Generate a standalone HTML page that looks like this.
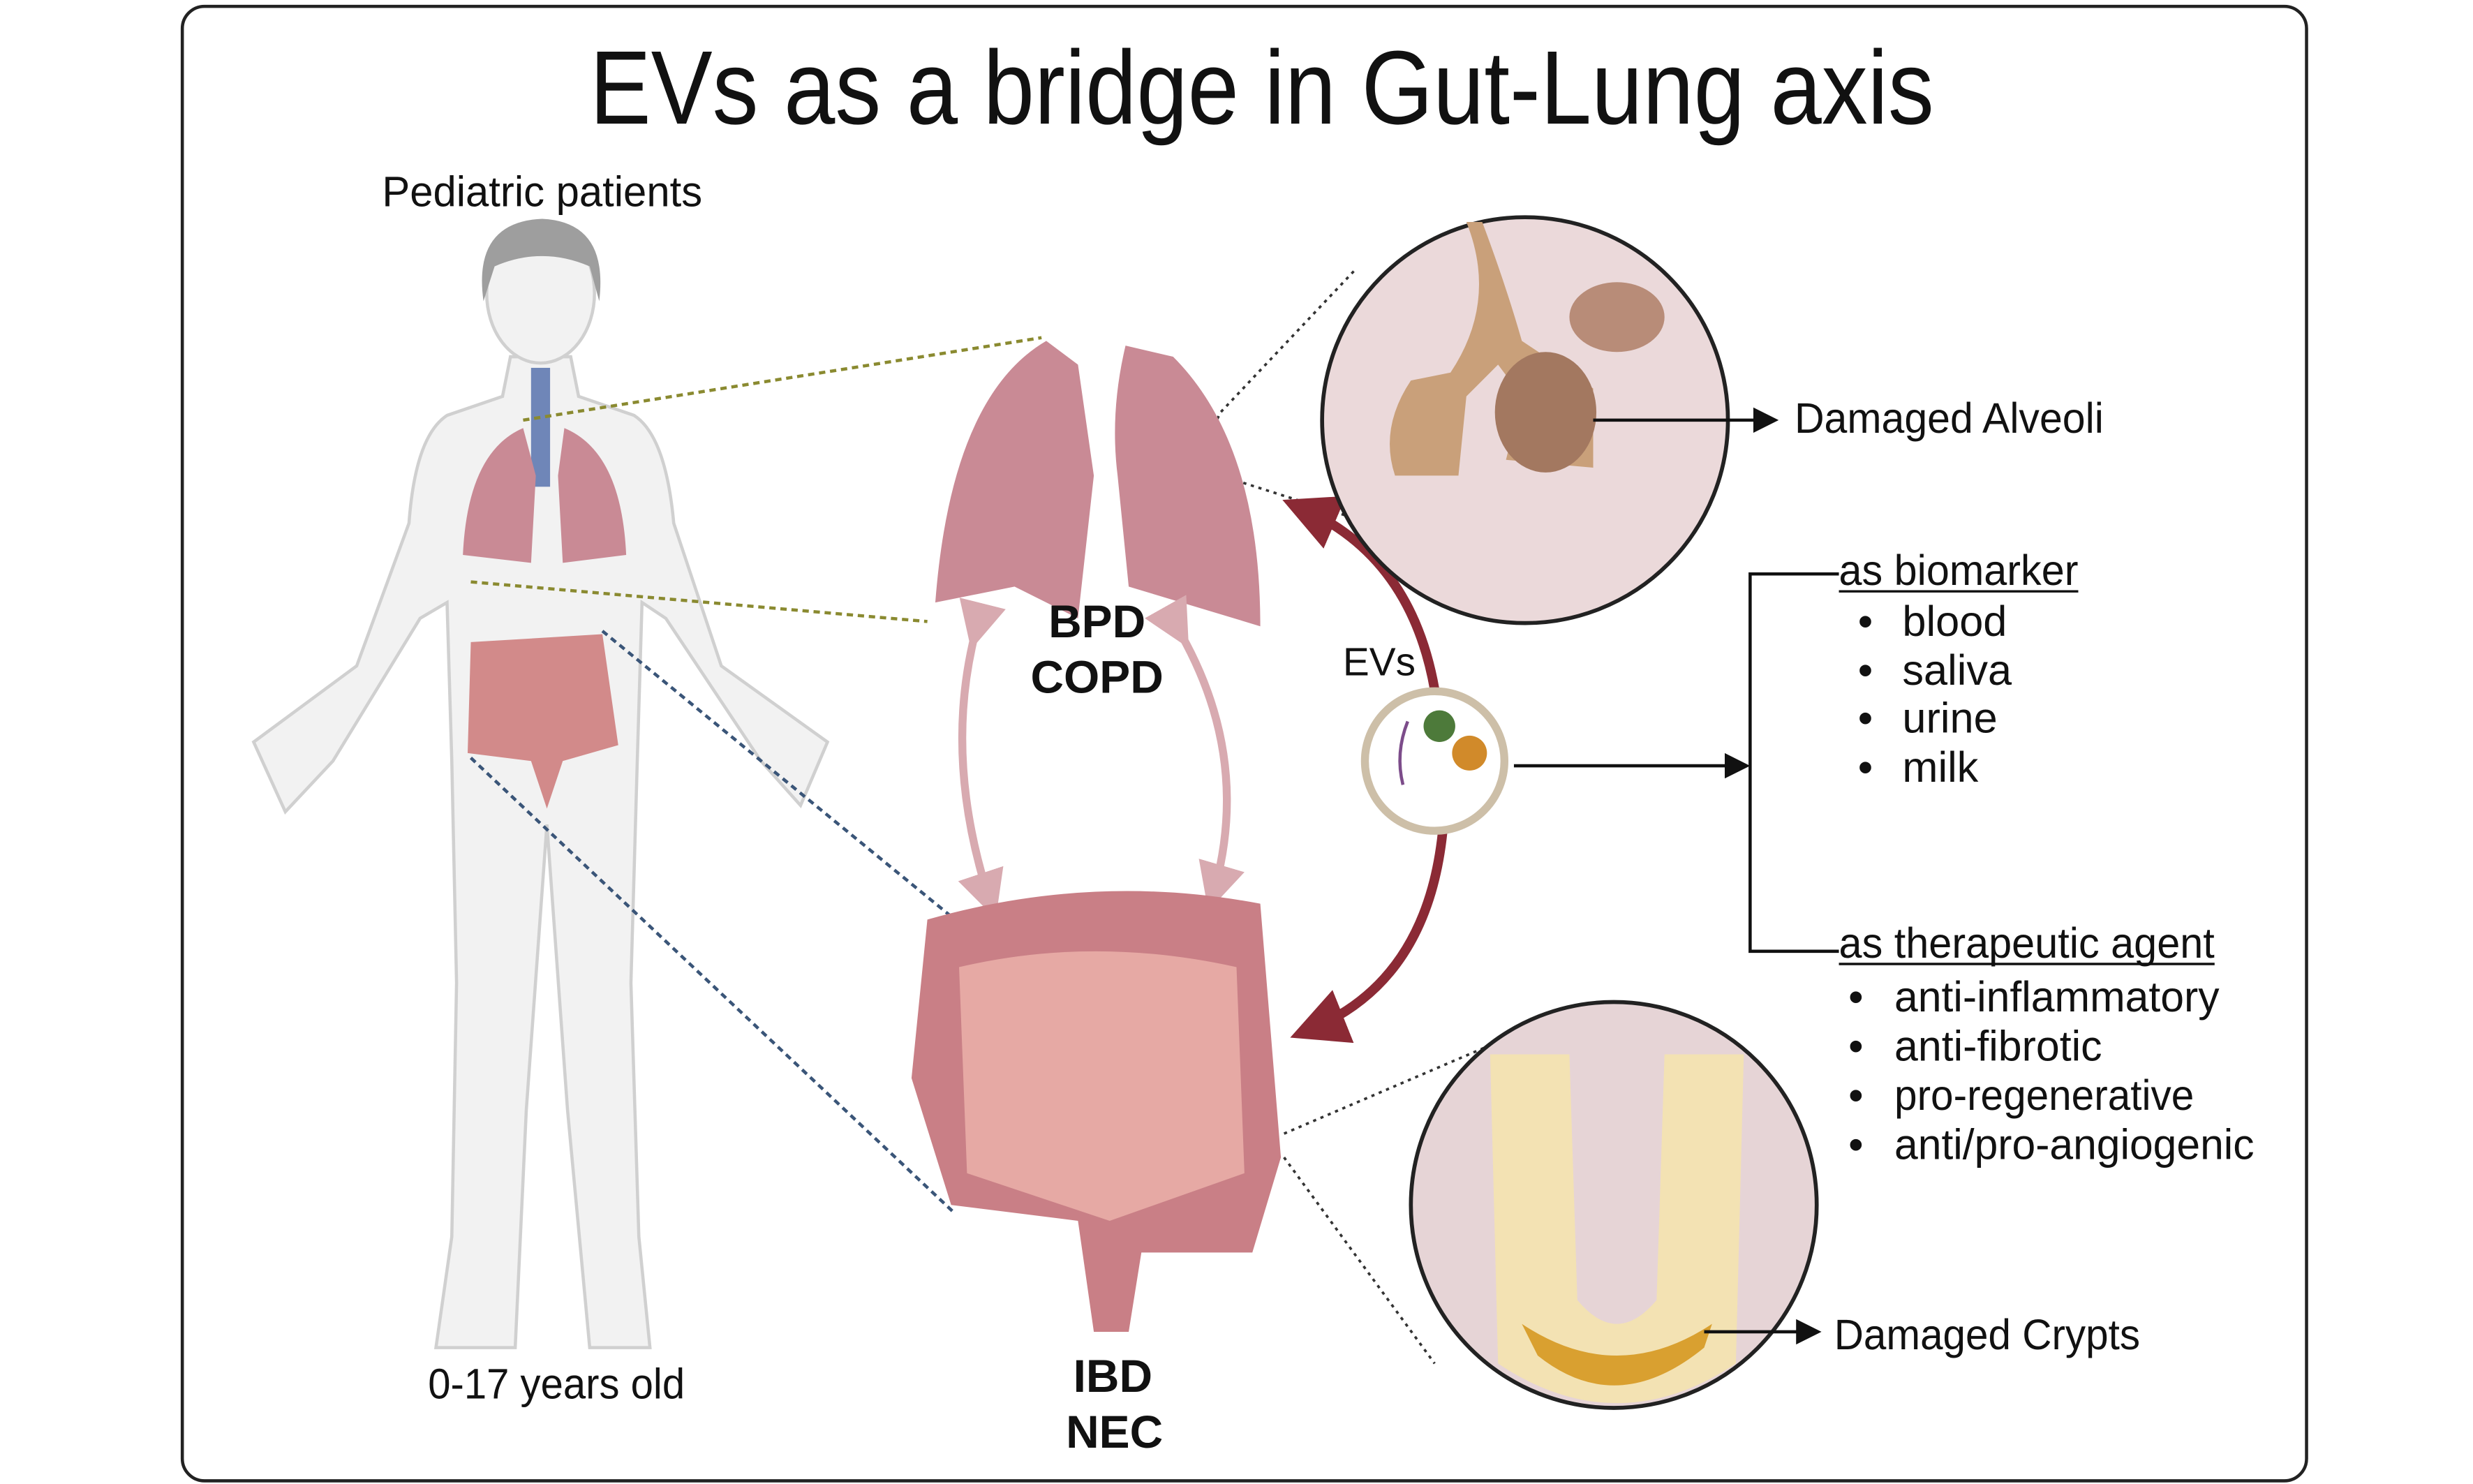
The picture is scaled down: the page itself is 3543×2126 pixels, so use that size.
<!DOCTYPE html>
<html><head><meta charset="utf-8"><style>
html,body{margin:0;padding:0;background:#fff}
svg{display:block}
text{font-family:"Liberation Sans Narrow","Liberation Sans",sans-serif;fill:#111}
</style></head><body>
<svg width="3543" height="2126" viewBox="0 0 1560 936" preserveAspectRatio="none" xmlns="http://www.w3.org/2000/svg">
<defs>
<marker id="ah" markerWidth="8" markerHeight="8" refX="6" refY="4" orient="auto"><path d="M0,0 L8,4 L0,8 z" fill="#111"/></marker>
<marker id="rh" markerWidth="6" markerHeight="6" refX="4" refY="3" orient="auto"><path d="M0,0 L6,3 L0,6 z" fill="#8b2a35"/></marker>
<marker id="ph" markerWidth="6" markerHeight="6" refX="4" refY="3" orient="auto"><path d="M0,0 L6,3 L0,6 z" fill="#d8aab0"/></marker>
</defs>
<rect x="115" y="4" width="1340" height="930" rx="14" fill="#fff" stroke="#222" stroke-width="2"/>
<text x="372" y="78" font-size="66" textLength="848" lengthAdjust="spacingAndGlyphs">EVs as a bridge in Gut-Lung axis</text>
<text x="241" y="130" font-size="27" textLength="202" lengthAdjust="spacingAndGlyphs">Pediatric patients</text>
<text x="270" y="882" font-size="27" textLength="162" lengthAdjust="spacingAndGlyphs">0-17 years old</text>

<!-- body -->
<g fill="#f2f2f2" stroke="#d0d0d0" stroke-width="2">
<path d="M322,225 L360,225 L365,250 L400,262 Q420,275 425,330 L455,420 L522,468 L505,508 L480,480 L420,390 L405,380 L402,480 L398,620 L403,780 L410,850 L372,850 L358,700 L345,520 L332,700 L325,850 L275,850 L285,780 L288,620 L285,480 L282,380 L265,390 L210,480 L180,512 L160,468 L225,420 L258,330 Q262,275 282,262 L317,250 Z"/>
<ellipse cx="341" cy="185" rx="34" ry="44"/>
</g>
<path d="M305,190 Q298,140 342,138 Q384,140 378,190 L372,168 Q342,155 312,168 Z" fill="#9e9e9e"/>
<rect x="335" y="232" width="12" height="75" fill="#6f86b8"/>
<path d="M330,270 Q295,285 292,350 L335,355 L338,300 Z M352,300 L355,355 L395,350 Q392,285 356,270 Z" fill="#c98a95"/>
<path d="M297,405 L380,400 L390,470 L355,480 L345,510 L335,480 L295,475 Z" fill="#d28a8a"/>

<!-- dashed connectors -->
<g stroke-width="2" stroke-dasharray="4,3" fill="none">
<path d="M330,265 L657,213 M297,367 L585,392" stroke="#8a8a30"/>
<path d="M380,398 L600,578 M297,478 L602,765" stroke="#3a5578"/>
</g>
<g stroke-width="1.6" stroke-dasharray="2,3" fill="none" stroke="#333">
<path d="M750,300 L770,260 L855,170 M770,300 L880,335"/>
<path d="M810,715 L950,655 M810,730 L905,860"/>
</g>

<!-- lungs -->
<path d="M660,215 Q600,250 590,380 L640,370 L680,390 L690,300 L680,230 Z" fill="#c98a95"/>
<path d="M710,218 Q700,260 705,300 L712,370 L795,395 Q795,280 740,225 Z" fill="#c98a95"/>
<text x="692" y="402" font-size="29" font-weight="bold" text-anchor="middle">BPD</text>
<text x="692" y="437" font-size="29" font-weight="bold" text-anchor="middle">COPD</text>

<!-- pink arrows -->
<path d="M615,400 Q595,480 625,570" stroke="#d8aab0" stroke-width="5" fill="none" marker-end="url(#ph)" marker-start="url(#ph)"/>
<path d="M745,400 Q790,480 765,565" stroke="#d8aab0" stroke-width="5" fill="none" marker-end="url(#ph)" marker-start="url(#ph)"/>

<!-- colon -->
<path d="M585,580 Q690,550 795,570 L808,730 L790,790 L720,790 L712,840 L690,840 L680,770 L600,760 L575,680 Z" fill="#c97f86"/>
<path d="M605,610 Q690,590 780,610 L785,740 L700,770 L610,740 Z" fill="#e6a9a4"/>
<text x="702" y="878" font-size="29" font-weight="bold" text-anchor="middle">IBD</text>
<text x="703" y="913" font-size="29" font-weight="bold" text-anchor="middle">NEC</text>

<!-- red arc -->
<path d="M905,435 Q890,350 820,320" stroke="#8b2a35" stroke-width="6" fill="none" marker-end="url(#rh)"/>
<path d="M910,525 Q900,620 825,650" stroke="#8b2a35" stroke-width="6" fill="none" marker-end="url(#rh)"/>
<text x="870" y="426" font-size="25" text-anchor="middle">EVs</text>
<circle cx="905" cy="480" r="44" fill="#fff" stroke="#cdbfa8" stroke-width="5"/>
<circle cx="908" cy="458" r="10" fill="#4d7a3a"/><circle cx="927" cy="475" r="11" fill="#d18a2a"/>
<path d="M888,455 Q880,475 885,495" stroke="#7c4c8a" stroke-width="2" fill="none"/>
<line x1="955" y1="483" x2="1100" y2="483" stroke="#111" stroke-width="2" marker-end="url(#ah)"/>

<!-- top circle -->
<circle cx="962" cy="265" r="128" fill="#ebd9da" stroke="#222" stroke-width="2.5"/>
<path d="M925,140 Q945,190 915,235 L890,240 Q870,270 880,300 L920,300 L925,250 L945,230 L960,250 L950,290 L1005,295 L1005,245 L960,215 Q950,180 935,140 Z" fill="#c9a07a"/>
<ellipse cx="1020" cy="200" rx="30" ry="22" fill="#b88c78"/>
<ellipse cx="975" cy="260" rx="32" ry="38" fill="#a37860"/>
<line x1="1005" y1="265" x2="1118" y2="265" stroke="#111" stroke-width="2" marker-end="url(#ah)"/>
<text x="1132" y="273" font-size="27" textLength="195" lengthAdjust="spacingAndGlyphs">Damaged Alveoli</text>

<!-- bottom circle -->
<circle cx="1018" cy="760" r="128" fill="#e6d4d6" stroke="#222" stroke-width="2.5"/>
<path d="M940,665 L990,665 L995,820 Q1020,850 1045,820 L1050,665 L1100,665 L1095,860 Q1020,910 945,860 Z" fill="#f3e2b3"/>
<path d="M970,855 Q1020,895 1075,850 L1080,835 Q1020,875 960,835 Z" fill="#d9a030"/>
<line x1="1075" y1="840" x2="1145" y2="840" stroke="#111" stroke-width="2" marker-end="url(#ah)"/>
<text x="1157" y="851" font-size="27" textLength="193" lengthAdjust="spacingAndGlyphs">Damaged Crypts</text>

<!-- bracket -->
<path d="M1160,362 L1104,362 L1104,600 L1160,600" stroke="#111" stroke-width="2" fill="none"/>
<g font-size="27">
<text x="1160" y="369" textLength="151" lengthAdjust="spacingAndGlyphs">as biomarker</text>
<text x="1172" y="401">•</text><text x="1200" y="401">blood</text>
<text x="1172" y="432">•</text><text x="1200" y="432">saliva</text>
<text x="1172" y="462">•</text><text x="1200" y="462">urine</text>
<text x="1172" y="493">•</text><text x="1200" y="493">milk</text>
<text x="1160" y="604" textLength="237" lengthAdjust="spacingAndGlyphs">as therapeutic agent</text>
<text x="1166" y="638">•</text><text x="1195" y="638" textLength="205" lengthAdjust="spacingAndGlyphs">anti-inflammatory</text>
<text x="1166" y="669">•</text><text x="1195" y="669" textLength="131" lengthAdjust="spacingAndGlyphs">anti-fibrotic</text>
<text x="1166" y="700">•</text><text x="1195" y="700" textLength="189" lengthAdjust="spacingAndGlyphs">pro-regenerative</text>
<text x="1166" y="731">•</text><text x="1195" y="731" textLength="227" lengthAdjust="spacingAndGlyphs">anti/pro-angiogenic</text>
</g>
<line x1="1160" y1="373" x2="1311" y2="373" stroke="#111" stroke-width="1.5"/>
<line x1="1160" y1="608" x2="1397" y2="608" stroke="#111" stroke-width="1.5"/>
</svg>
</body></html>
